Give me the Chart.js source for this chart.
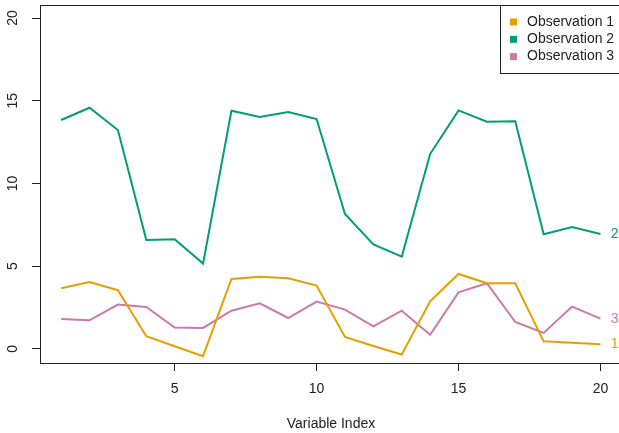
<!DOCTYPE html>
<html>
<head>
<meta charset="utf-8">
<script src="https://cdn.jsdelivr.net/npm/chart.js@4"></script>
<style>
html,body{margin:0;padding:0;background:#fff;overflow:hidden;width:619px;height:433px;}
canvas{display:block;}
</style>
</head>
<body>
<canvas id="c" width="624" height="433"></canvas>
<script>
const variableIndex = [1,2,3,4,5,6,7,8,9,10,11,12,13,14,15,16,17,18,19,20];
const obs1 = [3.67,4.05,3.55,0.77,0.16,-0.44,4.23,4.37,4.27,3.83,0.73,0.18,-0.34,2.88,4.53,3.97,3.97,0.46,0.38,0.28];
const obs2 = [13.84,14.58,13.23,6.59,6.63,5.16,14.40,14.02,14.32,13.90,8.16,6.32,5.58,11.78,14.42,13.74,13.76,6.93,7.37,6.95];
const obs3 = [1.81,1.73,2.68,2.54,1.29,1.27,2.31,2.76,1.87,2.86,2.38,1.37,2.31,0.85,3.42,3.97,1.63,0.97,2.56,1.83];
const seriesNames = ["Observation 1","Observation 2","Observation 3"];
const endLabels = ["1","2","3"];
const seriesColors = ["#E69F00","#009E73","#CC79A7"];
const xTicks = [5,10,15,20];
const yTicks = [0,5,10,15,20];

const FONT = '"Liberation Sans", Arial, Helvetica, sans-serif';
const TXT = '#222';

const series = [obs1, obs2, obs3];
const datasets = series.map((s,k)=>({
  label: seriesNames[k],
  data: s.map((v,i)=>({x: variableIndex[i], y: v})),
  borderColor: seriesColors[k],
  backgroundColor: seriesColors[k],
  borderWidth: 2,
  pointRadius: 0,
  tension: 0,
  fill: false
}));

const rPlot = {
  id: 'rPlot',
  afterDraw(chart){
    const ctx = chart.ctx, a = chart.chartArea;
    const xs = chart.scales.x, ys = chart.scales.y;
    ctx.save();
    // box
    ctx.strokeStyle = '#222'; ctx.lineWidth = 1;
    ctx.strokeRect(Math.round(a.left)+0.5, Math.round(a.top)+0.5, Math.round(a.right-a.left), Math.round(a.bottom-a.top));
    // y tick labels rotated
    ctx.fillStyle = TXT; ctx.font = '14px ' + FONT;
    ctx.textAlign = 'center'; ctx.textBaseline = 'middle';
    yTicks.forEach(v=>{
      const y = ys.getPixelForValue(v);
      ctx.save(); ctx.translate(13.5, y); ctx.rotate(-Math.PI/2);
      ctx.fillText(String(v), 0, 0); ctx.restore();
    });
    // end labels
    series.forEach((s,k)=>{
      ctx.fillStyle = seriesColors[k];
      ctx.fillText(endLabels[k], xs.getPixelForValue(20.5), ys.getPixelForValue(s[s.length-1]));
    });
    // legend
    const lx = 500, ly = Math.round(a.top), lw = Math.round(a.right) - lx, lh = 68;
    ctx.fillStyle = '#fff';
    ctx.fillRect(lx, ly, lw, lh);
    ctx.strokeStyle = '#222';
    ctx.strokeRect(lx+0.5, ly+0.5, lw, lh);
    ctx.textAlign = 'left';
    seriesNames.forEach((n,k)=>{
      const cy = ly + 17 + k*17.3;
      ctx.fillStyle = seriesColors[k];
      ctx.fillRect(510, cy-3.5, 7, 7);
      ctx.fillStyle = TXT;
      ctx.fillText(n, 527, cy);
    });
    ctx.restore();
  }
};

new Chart(document.getElementById('c'), {
  type: 'line',
  data: { datasets },
  options: {
    responsive: false,
    devicePixelRatio: 1,
    animation: false,
    layout: { padding: { top: 5, right: 2, bottom: 0, left: 0 } },
    plugins: { legend: { display: false }, tooltip: { enabled: false } },
    scales: {
      x: {
        type: 'linear',
        min: 0.255, max: 20.76,
        afterFit: s => { s.height = 70; },
        afterBuildTicks: s => { s.ticks = xTicks.map(v=>({value:v})); },
        border: { display: false },
        grid: { drawOnChartArea: false, drawTicks: true, tickLength: 8, color: '#222' },
        ticks: { color: TXT, font: { family: FONT, size: 14 }, padding: 10, maxRotation: 0, autoSkip: false },
        title: { display: true, text: 'Variable Index', color: TXT, font: { family: FONT, size: 14 }, padding: { top: 0, bottom: 0 } }
      },
      y: {
        type: 'linear',
        min: -0.85, max: 20.79,
        afterFit: s => { s.width = 40; },
        afterBuildTicks: s => { s.ticks = yTicks.map(v=>({value:v})); },
        border: { display: false },
        grid: { drawOnChartArea: false, drawTicks: true, tickLength: 8, color: '#222' },
        ticks: { display: false }
      }
    }
  },
  plugins: [rPlot]
});
</script>
</body>
</html>
